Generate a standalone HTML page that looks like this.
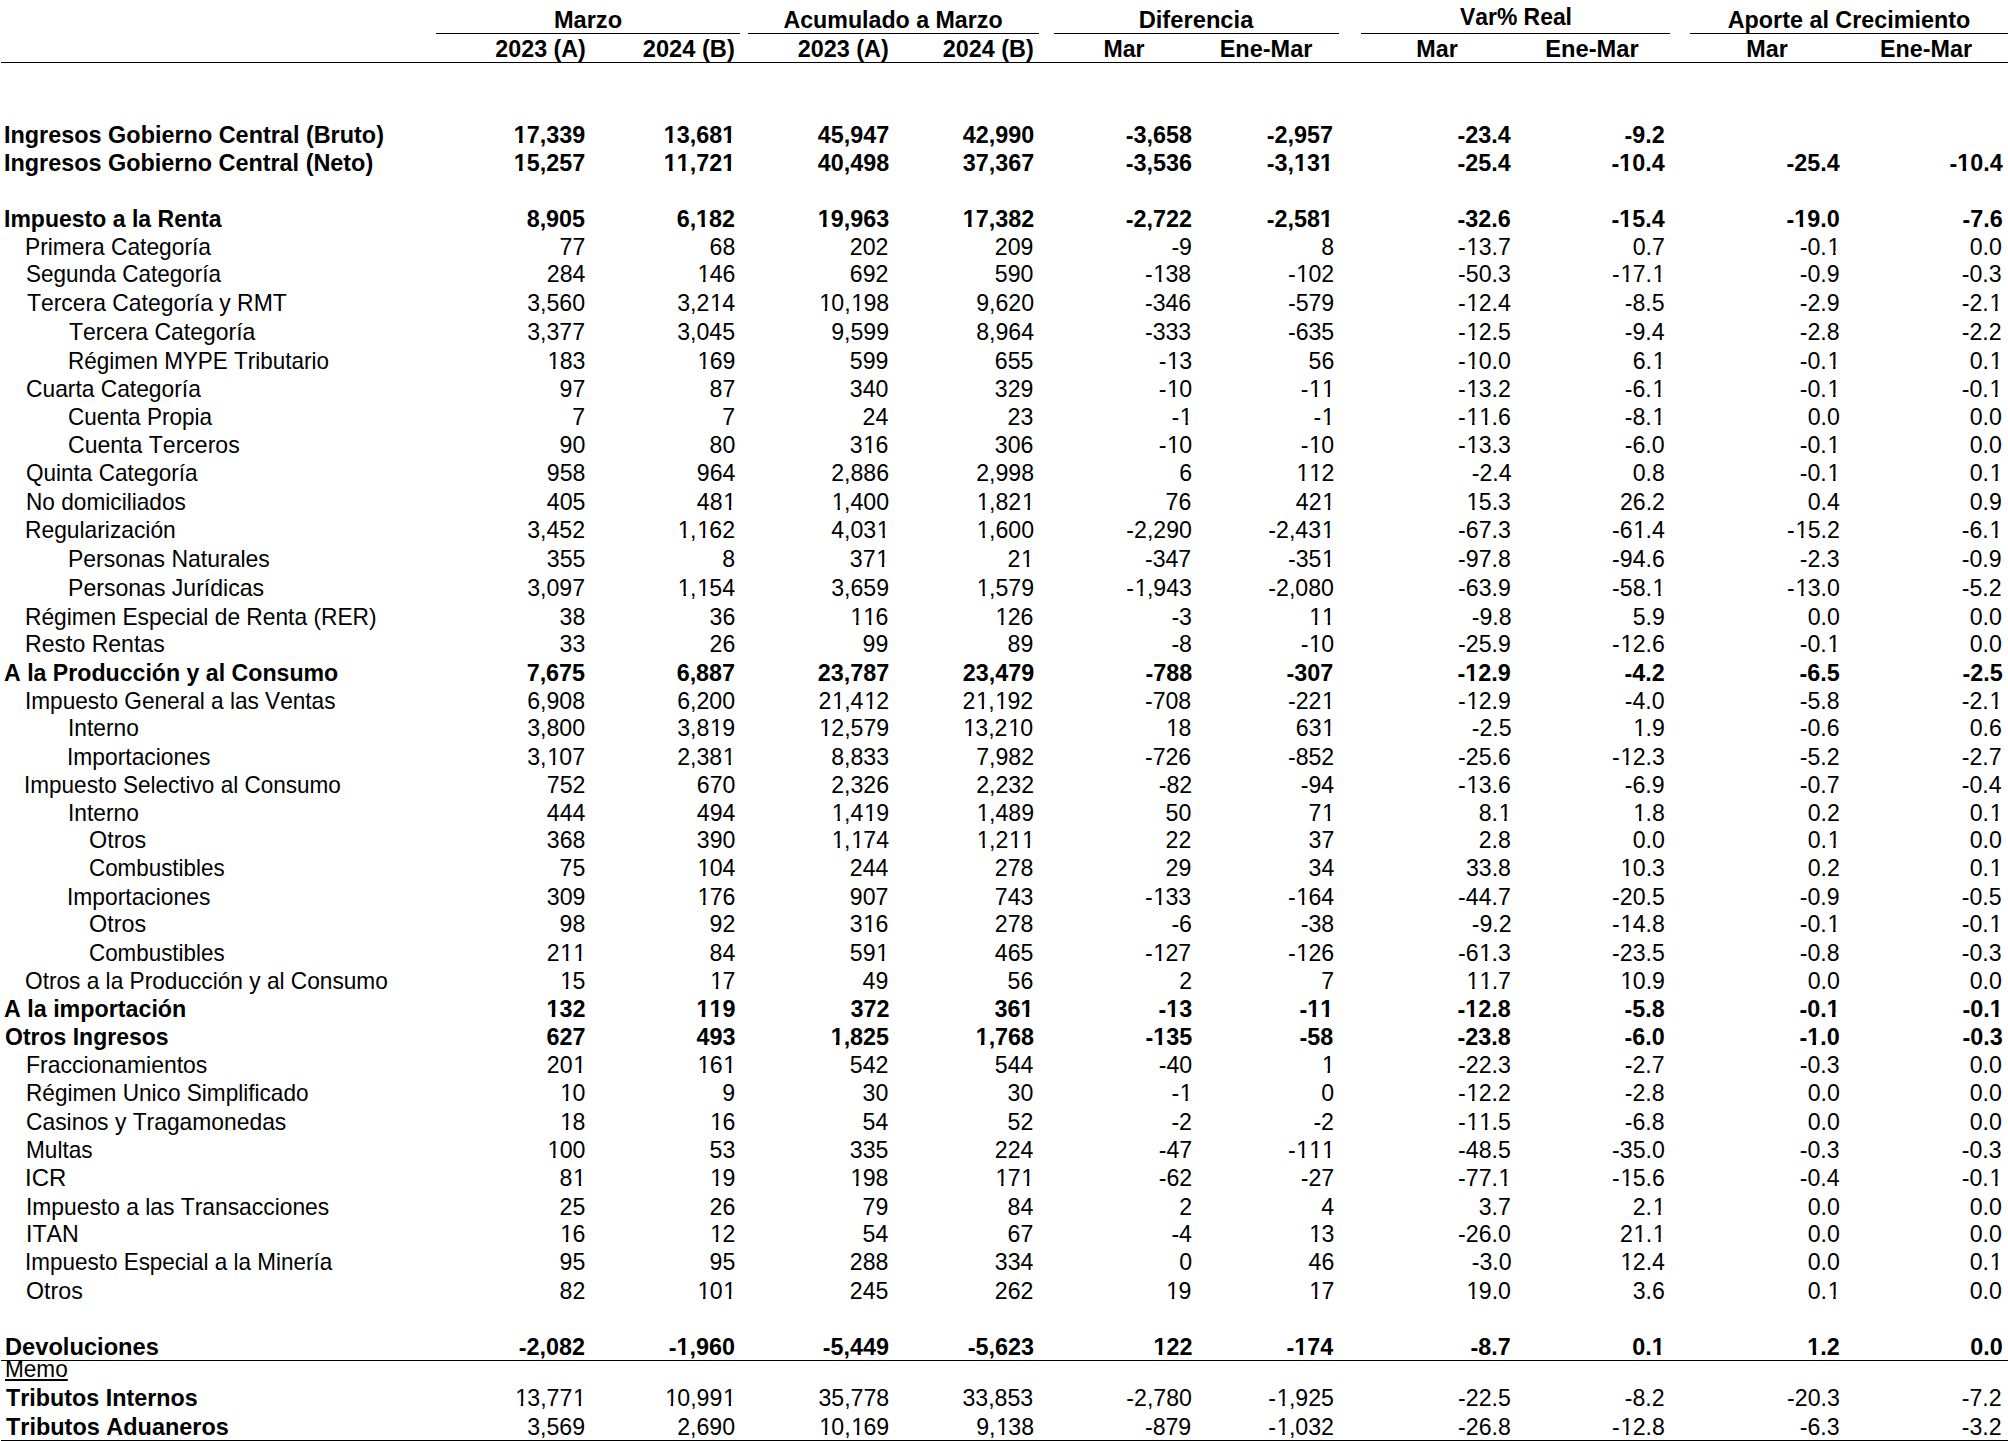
<!DOCTYPE html>
<html><head><meta charset="utf-8"><style>
html,body{margin:0;padding:0;background:#fff;}
body{width:2008px;height:1441px;position:relative;overflow:hidden;font-family:"Liberation Sans",sans-serif;color:#000;}
.r,.b{position:absolute;white-space:nowrap;line-height:1;font-size:23.6px;font-kerning:none;font-variant-ligatures:none;}
.r{font-weight:normal;}
.b{font-weight:bold;}
.ln{position:absolute;background:#000;}
u{text-decoration-thickness:1.7px;text-underline-offset:2px;}
.r .o1{position:relative;left:0.03em;clip-path:polygon(0 0,100% 0,100% 0.74em,0.348em 0.74em,0.348em 100%,0.243em 100%,0.243em 0.74em,0 0.74em);}
.b .hy{position:relative;top:0.04em;}
.b .o1{clip-path:polygon(0 0,100% 0,100% 0.72em,0.378em 0.72em,0.378em 100%,0.226em 100%,0.226em 0.72em,0 0.72em);}
</style></head><body>
<div class="b" style="top:8.92px;left:288.25px;width:600px;text-align:center;transform-origin:50% 50%;transform:scaleX(0.9997)">Marzo</div>
<div class="b" style="top:8.92px;left:593.27px;width:600px;text-align:center;transform-origin:50% 50%;transform:scaleX(0.9832)">Acumulado a Marzo</div>
<div class="b" style="top:8.92px;left:895.88px;width:600px;text-align:center;transform-origin:50% 50%;transform:scaleX(1.0052)">Diferencia</div>
<div class="b" style="top:5.82px;left:1215.60px;width:600px;text-align:center;transform-origin:50% 50%;transform:scaleX(0.9704)">Var% Real</div>
<div class="b" style="top:8.92px;left:1549.49px;width:600px;text-align:center;transform-origin:50% 50%;transform:scaleX(0.9897)">Aporte al Crecimiento</div>
<div class="b" style="top:37.82px;right:1422.42px;transform-origin:100% 50%;transform:scaleX(0.9853)">2023 (A)</div>
<div class="b" style="top:37.82px;right:1272.72px;transform-origin:100% 50%;transform:scaleX(1.0029)">2024 (B)</div>
<div class="b" style="top:37.82px;right:1119.58px;transform-origin:100% 50%;transform:scaleX(0.9926)">2023 (A)</div>
<div class="b" style="top:37.82px;right:974.48px;transform-origin:100% 50%;transform:scaleX(0.9926)">2024 (B)</div>
<div class="b" style="top:37.82px;left:824.42px;width:600px;text-align:center;transform-origin:50% 50%;transform:scaleX(0.9786)">Mar</div>
<div class="b" style="top:37.82px;left:966.24px;width:600px;text-align:center;transform-origin:50% 50%;transform:scaleX(0.9958)">Ene-Mar</div>
<div class="b" style="top:37.82px;left:1137.46px;width:600px;text-align:center;transform-origin:50% 50%;transform:scaleX(0.9883)">Mar</div>
<div class="b" style="top:37.82px;left:1291.74px;width:600px;text-align:center;transform-origin:50% 50%;transform:scaleX(1.0027)">Ene-Mar</div>
<div class="b" style="top:37.82px;left:1466.86px;width:600px;text-align:center;transform-origin:50% 50%;transform:scaleX(0.9883)">Mar</div>
<div class="b" style="top:37.82px;left:1626.10px;width:600px;text-align:center;transform-origin:50% 50%;transform:scaleX(0.9880)">Ene-Mar</div>
<div class="b" style="top:123.72px;left:3.51px;transform-origin:0 50%;transform:scaleX(0.9926)">Ingresos Gobierno Central (Bruto)</div>
<div class="b" style="top:123.72px;right:1422.63px;transform-origin:100% 50%;transform:scaleX(0.9890)"><span class="o1">1</span>7,339</div>
<div class="b" style="top:123.72px;right:1273.13px;transform-origin:100% 50%;transform:scaleX(0.9890)"><span class="o1">1</span>3,68<span class="o1">1</span></div>
<div class="b" style="top:123.72px;right:1118.85px;transform-origin:100% 50%;transform:scaleX(0.9890)">45,947</div>
<div class="b" style="top:123.72px;right:974.27px;transform-origin:100% 50%;transform:scaleX(0.9890)">42,990</div>
<div class="b" style="top:123.72px;right:815.81px;transform-origin:100% 50%;transform:scaleX(0.9890)"><span class="hy">-</span>3,658</div>
<div class="b" style="top:123.72px;right:674.68px;transform-origin:100% 50%;transform:scaleX(0.9890)"><span class="hy">-</span>2,957</div>
<div class="b" style="top:123.72px;right:496.88px;transform-origin:100% 50%;transform:scaleX(0.9890)"><span class="hy">-</span>23.4</div>
<div class="b" style="top:123.72px;right:343.53px;transform-origin:100% 50%;transform:scaleX(0.9890)"><span class="hy">-</span>9.2</div>
<div class="b" style="top:151.62px;left:3.52px;transform-origin:0 50%;transform:scaleX(0.9917)">Ingresos Gobierno Central (Neto)</div>
<div class="b" style="top:151.62px;right:1422.63px;transform-origin:100% 50%;transform:scaleX(0.9890)"><span class="o1">1</span>5,257</div>
<div class="b" style="top:151.62px;right:1273.13px;transform-origin:100% 50%;transform:scaleX(0.9890)"><span class="o1">1</span><span class="o1">1</span>,72<span class="o1">1</span></div>
<div class="b" style="top:151.62px;right:1118.85px;transform-origin:100% 50%;transform:scaleX(0.9890)">40,498</div>
<div class="b" style="top:151.62px;right:974.27px;transform-origin:100% 50%;transform:scaleX(0.9890)">37,367</div>
<div class="b" style="top:151.62px;right:815.81px;transform-origin:100% 50%;transform:scaleX(0.9890)"><span class="hy">-</span>3,536</div>
<div class="b" style="top:151.62px;right:674.68px;transform-origin:100% 50%;transform:scaleX(0.9890)"><span class="hy">-</span>3,<span class="o1">1</span>3<span class="o1">1</span></div>
<div class="b" style="top:151.62px;right:496.88px;transform-origin:100% 50%;transform:scaleX(0.9890)"><span class="hy">-</span>25.4</div>
<div class="b" style="top:151.62px;right:343.53px;transform-origin:100% 50%;transform:scaleX(0.9890)"><span class="hy">-</span><span class="o1">1</span>0.4</div>
<div class="b" style="top:151.62px;right:167.89px;transform-origin:100% 50%;transform:scaleX(0.9890)"><span class="hy">-</span>25.4</div>
<div class="b" style="top:151.62px;right:5.58px;transform-origin:100% 50%;transform:scaleX(0.9890)"><span class="hy">-</span><span class="o1">1</span>0.4</div>
<div class="b" style="top:207.62px;left:3.66px;transform-origin:0 50%;transform:scaleX(0.9758)">Impuesto a la Renta</div>
<div class="b" style="top:207.62px;right:1422.63px;transform-origin:100% 50%;transform:scaleX(0.9890)">8,905</div>
<div class="b" style="top:207.62px;right:1273.13px;transform-origin:100% 50%;transform:scaleX(0.9890)">6,<span class="o1">1</span>82</div>
<div class="b" style="top:207.62px;right:1118.85px;transform-origin:100% 50%;transform:scaleX(0.9890)"><span class="o1">1</span>9,963</div>
<div class="b" style="top:207.62px;right:974.27px;transform-origin:100% 50%;transform:scaleX(0.9890)"><span class="o1">1</span>7,382</div>
<div class="b" style="top:207.62px;right:815.81px;transform-origin:100% 50%;transform:scaleX(0.9890)"><span class="hy">-</span>2,722</div>
<div class="b" style="top:207.62px;right:674.68px;transform-origin:100% 50%;transform:scaleX(0.9890)"><span class="hy">-</span>2,58<span class="o1">1</span></div>
<div class="b" style="top:207.62px;right:496.88px;transform-origin:100% 50%;transform:scaleX(0.9890)"><span class="hy">-</span>32.6</div>
<div class="b" style="top:207.62px;right:343.53px;transform-origin:100% 50%;transform:scaleX(0.9890)"><span class="hy">-</span><span class="o1">1</span>5.4</div>
<div class="b" style="top:207.62px;right:167.89px;transform-origin:100% 50%;transform:scaleX(0.9890)"><span class="hy">-</span><span class="o1">1</span>9.0</div>
<div class="b" style="top:207.62px;right:5.58px;transform-origin:100% 50%;transform:scaleX(0.9890)"><span class="hy">-</span>7.6</div>
<div class="r" style="top:235.52px;left:25.34px;transform-origin:0 50%;transform:scaleX(0.9648)">Primera Categoría</div>
<div class="r" style="top:235.52px;right:1422.47px;transform-origin:100% 50%;transform:scaleX(0.9800)">77</div>
<div class="r" style="top:235.52px;right:1273.07px;transform-origin:100% 50%;transform:scaleX(0.9800)">68</div>
<div class="r" style="top:235.52px;right:1119.30px;transform-origin:100% 50%;transform:scaleX(0.9800)">202</div>
<div class="r" style="top:235.52px;right:974.45px;transform-origin:100% 50%;transform:scaleX(0.9800)">209</div>
<div class="r" style="top:235.52px;right:816.36px;transform-origin:100% 50%;transform:scaleX(0.9800)">-9</div>
<div class="r" style="top:235.52px;right:674.11px;transform-origin:100% 50%;transform:scaleX(0.9800)">8</div>
<div class="r" style="top:235.52px;right:496.84px;transform-origin:100% 50%;transform:scaleX(0.9800)">-<span class="o1">1</span>3.7</div>
<div class="r" style="top:235.52px;right:343.28px;transform-origin:100% 50%;transform:scaleX(0.9800)">0.7</div>
<div class="r" style="top:235.52px;right:168.33px;transform-origin:100% 50%;transform:scaleX(0.9800)">-0.<span class="o1">1</span></div>
<div class="r" style="top:235.52px;right:5.90px;transform-origin:100% 50%;transform:scaleX(0.9800)">0.0</div>
<div class="r" style="top:263.32px;left:26.23px;transform-origin:0 50%;transform:scaleX(0.9528)">Segunda Categoría</div>
<div class="r" style="top:263.32px;right:1422.47px;transform-origin:100% 50%;transform:scaleX(0.9800)">284</div>
<div class="r" style="top:263.32px;right:1273.07px;transform-origin:100% 50%;transform:scaleX(0.9800)"><span class="o1">1</span>46</div>
<div class="r" style="top:263.32px;right:1119.30px;transform-origin:100% 50%;transform:scaleX(0.9800)">692</div>
<div class="r" style="top:263.32px;right:974.45px;transform-origin:100% 50%;transform:scaleX(0.9800)">590</div>
<div class="r" style="top:263.32px;right:816.36px;transform-origin:100% 50%;transform:scaleX(0.9800)">-<span class="o1">1</span>38</div>
<div class="r" style="top:263.32px;right:674.11px;transform-origin:100% 50%;transform:scaleX(0.9800)">-<span class="o1">1</span>02</div>
<div class="r" style="top:263.32px;right:496.84px;transform-origin:100% 50%;transform:scaleX(0.9800)">-50.3</div>
<div class="r" style="top:263.32px;right:343.28px;transform-origin:100% 50%;transform:scaleX(0.9800)">-<span class="o1">1</span>7.<span class="o1">1</span></div>
<div class="r" style="top:263.32px;right:168.33px;transform-origin:100% 50%;transform:scaleX(0.9800)">-0.9</div>
<div class="r" style="top:263.32px;right:5.90px;transform-origin:100% 50%;transform:scaleX(0.9800)">-0.3</div>
<div class="r" style="top:291.62px;left:27.34px;transform-origin:0 50%;transform:scaleX(0.9710)">Tercera Categoría y RMT</div>
<div class="r" style="top:291.62px;right:1422.47px;transform-origin:100% 50%;transform:scaleX(0.9800)">3,560</div>
<div class="r" style="top:291.62px;right:1273.07px;transform-origin:100% 50%;transform:scaleX(0.9800)">3,2<span class="o1">1</span>4</div>
<div class="r" style="top:291.62px;right:1119.30px;transform-origin:100% 50%;transform:scaleX(0.9800)"><span class="o1">1</span>0,<span class="o1">1</span>98</div>
<div class="r" style="top:291.62px;right:974.45px;transform-origin:100% 50%;transform:scaleX(0.9800)">9,620</div>
<div class="r" style="top:291.62px;right:816.36px;transform-origin:100% 50%;transform:scaleX(0.9800)">-346</div>
<div class="r" style="top:291.62px;right:674.11px;transform-origin:100% 50%;transform:scaleX(0.9800)">-579</div>
<div class="r" style="top:291.62px;right:496.84px;transform-origin:100% 50%;transform:scaleX(0.9800)">-<span class="o1">1</span>2.4</div>
<div class="r" style="top:291.62px;right:343.28px;transform-origin:100% 50%;transform:scaleX(0.9800)">-8.5</div>
<div class="r" style="top:291.62px;right:168.33px;transform-origin:100% 50%;transform:scaleX(0.9800)">-2.9</div>
<div class="r" style="top:291.62px;right:5.90px;transform-origin:100% 50%;transform:scaleX(0.9800)">-2.<span class="o1">1</span></div>
<div class="r" style="top:320.52px;left:69.14px;transform-origin:0 50%;transform:scaleX(0.9729)">Tercera Categoría</div>
<div class="r" style="top:320.52px;right:1422.47px;transform-origin:100% 50%;transform:scaleX(0.9800)">3,377</div>
<div class="r" style="top:320.52px;right:1273.07px;transform-origin:100% 50%;transform:scaleX(0.9800)">3,045</div>
<div class="r" style="top:320.52px;right:1119.30px;transform-origin:100% 50%;transform:scaleX(0.9800)">9,599</div>
<div class="r" style="top:320.52px;right:974.45px;transform-origin:100% 50%;transform:scaleX(0.9800)">8,964</div>
<div class="r" style="top:320.52px;right:816.36px;transform-origin:100% 50%;transform:scaleX(0.9800)">-333</div>
<div class="r" style="top:320.52px;right:674.11px;transform-origin:100% 50%;transform:scaleX(0.9800)">-635</div>
<div class="r" style="top:320.52px;right:496.84px;transform-origin:100% 50%;transform:scaleX(0.9800)">-<span class="o1">1</span>2.5</div>
<div class="r" style="top:320.52px;right:343.28px;transform-origin:100% 50%;transform:scaleX(0.9800)">-9.4</div>
<div class="r" style="top:320.52px;right:168.33px;transform-origin:100% 50%;transform:scaleX(0.9800)">-2.8</div>
<div class="r" style="top:320.52px;right:5.90px;transform-origin:100% 50%;transform:scaleX(0.9800)">-2.2</div>
<div class="r" style="top:349.62px;left:68.43px;transform-origin:0 50%;transform:scaleX(0.9521)">Régimen MYPE Tributario</div>
<div class="r" style="top:349.62px;right:1422.47px;transform-origin:100% 50%;transform:scaleX(0.9800)"><span class="o1">1</span>83</div>
<div class="r" style="top:349.62px;right:1273.07px;transform-origin:100% 50%;transform:scaleX(0.9800)"><span class="o1">1</span>69</div>
<div class="r" style="top:349.62px;right:1119.30px;transform-origin:100% 50%;transform:scaleX(0.9800)">599</div>
<div class="r" style="top:349.62px;right:974.45px;transform-origin:100% 50%;transform:scaleX(0.9800)">655</div>
<div class="r" style="top:349.62px;right:816.36px;transform-origin:100% 50%;transform:scaleX(0.9800)">-<span class="o1">1</span>3</div>
<div class="r" style="top:349.62px;right:674.11px;transform-origin:100% 50%;transform:scaleX(0.9800)">56</div>
<div class="r" style="top:349.62px;right:496.84px;transform-origin:100% 50%;transform:scaleX(0.9800)">-<span class="o1">1</span>0.0</div>
<div class="r" style="top:349.62px;right:343.28px;transform-origin:100% 50%;transform:scaleX(0.9800)">6.<span class="o1">1</span></div>
<div class="r" style="top:349.62px;right:168.33px;transform-origin:100% 50%;transform:scaleX(0.9800)">-0.<span class="o1">1</span></div>
<div class="r" style="top:349.62px;right:5.90px;transform-origin:100% 50%;transform:scaleX(0.9800)">0.<span class="o1">1</span></div>
<div class="r" style="top:377.72px;left:25.96px;transform-origin:0 50%;transform:scaleX(0.9659)">Cuarta Categoría</div>
<div class="r" style="top:377.72px;right:1422.47px;transform-origin:100% 50%;transform:scaleX(0.9800)">97</div>
<div class="r" style="top:377.72px;right:1273.07px;transform-origin:100% 50%;transform:scaleX(0.9800)">87</div>
<div class="r" style="top:377.72px;right:1119.30px;transform-origin:100% 50%;transform:scaleX(0.9800)">340</div>
<div class="r" style="top:377.72px;right:974.45px;transform-origin:100% 50%;transform:scaleX(0.9800)">329</div>
<div class="r" style="top:377.72px;right:816.36px;transform-origin:100% 50%;transform:scaleX(0.9800)">-<span class="o1">1</span>0</div>
<div class="r" style="top:377.72px;right:674.11px;transform-origin:100% 50%;transform:scaleX(0.9800)">-<span class="o1">1</span><span class="o1">1</span></div>
<div class="r" style="top:377.72px;right:496.84px;transform-origin:100% 50%;transform:scaleX(0.9800)">-<span class="o1">1</span>3.2</div>
<div class="r" style="top:377.72px;right:343.28px;transform-origin:100% 50%;transform:scaleX(0.9800)">-6.<span class="o1">1</span></div>
<div class="r" style="top:377.72px;right:168.33px;transform-origin:100% 50%;transform:scaleX(0.9800)">-0.<span class="o1">1</span></div>
<div class="r" style="top:377.72px;right:5.90px;transform-origin:100% 50%;transform:scaleX(0.9800)">-0.<span class="o1">1</span></div>
<div class="r" style="top:406.12px;left:67.77px;transform-origin:0 50%;transform:scaleX(0.9548)">Cuenta Propia</div>
<div class="r" style="top:406.12px;right:1422.47px;transform-origin:100% 50%;transform:scaleX(0.9800)">7</div>
<div class="r" style="top:406.12px;right:1273.07px;transform-origin:100% 50%;transform:scaleX(0.9800)">7</div>
<div class="r" style="top:406.12px;right:1119.30px;transform-origin:100% 50%;transform:scaleX(0.9800)">24</div>
<div class="r" style="top:406.12px;right:974.45px;transform-origin:100% 50%;transform:scaleX(0.9800)">23</div>
<div class="r" style="top:406.12px;right:816.36px;transform-origin:100% 50%;transform:scaleX(0.9800)">-<span class="o1">1</span></div>
<div class="r" style="top:406.12px;right:674.11px;transform-origin:100% 50%;transform:scaleX(0.9800)">-<span class="o1">1</span></div>
<div class="r" style="top:406.12px;right:496.84px;transform-origin:100% 50%;transform:scaleX(0.9800)">-<span class="o1">1</span><span class="o1">1</span>.6</div>
<div class="r" style="top:406.12px;right:343.28px;transform-origin:100% 50%;transform:scaleX(0.9800)">-8.<span class="o1">1</span></div>
<div class="r" style="top:406.12px;right:168.33px;transform-origin:100% 50%;transform:scaleX(0.9800)">0.0</div>
<div class="r" style="top:406.12px;right:5.90px;transform-origin:100% 50%;transform:scaleX(0.9800)">0.0</div>
<div class="r" style="top:434.12px;left:67.63px;transform-origin:0 50%;transform:scaleX(0.9770)">Cuenta Terceros</div>
<div class="r" style="top:434.12px;right:1422.47px;transform-origin:100% 50%;transform:scaleX(0.9800)">90</div>
<div class="r" style="top:434.12px;right:1273.07px;transform-origin:100% 50%;transform:scaleX(0.9800)">80</div>
<div class="r" style="top:434.12px;right:1119.30px;transform-origin:100% 50%;transform:scaleX(0.9800)">3<span class="o1">1</span>6</div>
<div class="r" style="top:434.12px;right:974.45px;transform-origin:100% 50%;transform:scaleX(0.9800)">306</div>
<div class="r" style="top:434.12px;right:816.36px;transform-origin:100% 50%;transform:scaleX(0.9800)">-<span class="o1">1</span>0</div>
<div class="r" style="top:434.12px;right:674.11px;transform-origin:100% 50%;transform:scaleX(0.9800)">-<span class="o1">1</span>0</div>
<div class="r" style="top:434.12px;right:496.84px;transform-origin:100% 50%;transform:scaleX(0.9800)">-<span class="o1">1</span>3.3</div>
<div class="r" style="top:434.12px;right:343.28px;transform-origin:100% 50%;transform:scaleX(0.9800)">-6.0</div>
<div class="r" style="top:434.12px;right:168.33px;transform-origin:100% 50%;transform:scaleX(0.9800)">-0.<span class="o1">1</span></div>
<div class="r" style="top:434.12px;right:5.90px;transform-origin:100% 50%;transform:scaleX(0.9800)">0.0</div>
<div class="r" style="top:462.32px;left:26.36px;transform-origin:0 50%;transform:scaleX(0.9551)">Quinta Categoría</div>
<div class="r" style="top:462.32px;right:1422.47px;transform-origin:100% 50%;transform:scaleX(0.9800)">958</div>
<div class="r" style="top:462.32px;right:1273.07px;transform-origin:100% 50%;transform:scaleX(0.9800)">964</div>
<div class="r" style="top:462.32px;right:1119.30px;transform-origin:100% 50%;transform:scaleX(0.9800)">2,886</div>
<div class="r" style="top:462.32px;right:974.45px;transform-origin:100% 50%;transform:scaleX(0.9800)">2,998</div>
<div class="r" style="top:462.32px;right:816.36px;transform-origin:100% 50%;transform:scaleX(0.9800)">6</div>
<div class="r" style="top:462.32px;right:674.11px;transform-origin:100% 50%;transform:scaleX(0.9800)"><span class="o1">1</span><span class="o1">1</span>2</div>
<div class="r" style="top:462.32px;right:496.84px;transform-origin:100% 50%;transform:scaleX(0.9800)">-2.4</div>
<div class="r" style="top:462.32px;right:343.28px;transform-origin:100% 50%;transform:scaleX(0.9800)">0.8</div>
<div class="r" style="top:462.32px;right:168.33px;transform-origin:100% 50%;transform:scaleX(0.9800)">-0.<span class="o1">1</span></div>
<div class="r" style="top:462.32px;right:5.90px;transform-origin:100% 50%;transform:scaleX(0.9800)">0.<span class="o1">1</span></div>
<div class="r" style="top:490.82px;left:25.51px;transform-origin:0 50%;transform:scaleX(0.9598)">No domiciliados</div>
<div class="r" style="top:490.82px;right:1422.47px;transform-origin:100% 50%;transform:scaleX(0.9800)">405</div>
<div class="r" style="top:490.82px;right:1273.07px;transform-origin:100% 50%;transform:scaleX(0.9800)">48<span class="o1">1</span></div>
<div class="r" style="top:490.82px;right:1119.30px;transform-origin:100% 50%;transform:scaleX(0.9800)"><span class="o1">1</span>,400</div>
<div class="r" style="top:490.82px;right:974.45px;transform-origin:100% 50%;transform:scaleX(0.9800)"><span class="o1">1</span>,82<span class="o1">1</span></div>
<div class="r" style="top:490.82px;right:816.36px;transform-origin:100% 50%;transform:scaleX(0.9800)">76</div>
<div class="r" style="top:490.82px;right:674.11px;transform-origin:100% 50%;transform:scaleX(0.9800)">42<span class="o1">1</span></div>
<div class="r" style="top:490.82px;right:496.84px;transform-origin:100% 50%;transform:scaleX(0.9800)"><span class="o1">1</span>5.3</div>
<div class="r" style="top:490.82px;right:343.28px;transform-origin:100% 50%;transform:scaleX(0.9800)">26.2</div>
<div class="r" style="top:490.82px;right:168.33px;transform-origin:100% 50%;transform:scaleX(0.9800)">0.4</div>
<div class="r" style="top:490.82px;right:5.90px;transform-origin:100% 50%;transform:scaleX(0.9800)">0.9</div>
<div class="r" style="top:518.82px;left:25.33px;transform-origin:0 50%;transform:scaleX(0.9661)">Regularización</div>
<div class="r" style="top:518.82px;right:1422.47px;transform-origin:100% 50%;transform:scaleX(0.9800)">3,452</div>
<div class="r" style="top:518.82px;right:1273.07px;transform-origin:100% 50%;transform:scaleX(0.9800)"><span class="o1">1</span>,<span class="o1">1</span>62</div>
<div class="r" style="top:518.82px;right:1119.30px;transform-origin:100% 50%;transform:scaleX(0.9800)">4,03<span class="o1">1</span></div>
<div class="r" style="top:518.82px;right:974.45px;transform-origin:100% 50%;transform:scaleX(0.9800)"><span class="o1">1</span>,600</div>
<div class="r" style="top:518.82px;right:816.36px;transform-origin:100% 50%;transform:scaleX(0.9800)">-2,290</div>
<div class="r" style="top:518.82px;right:674.11px;transform-origin:100% 50%;transform:scaleX(0.9800)">-2,43<span class="o1">1</span></div>
<div class="r" style="top:518.82px;right:496.84px;transform-origin:100% 50%;transform:scaleX(0.9800)">-67.3</div>
<div class="r" style="top:518.82px;right:343.28px;transform-origin:100% 50%;transform:scaleX(0.9800)">-6<span class="o1">1</span>.4</div>
<div class="r" style="top:518.82px;right:168.33px;transform-origin:100% 50%;transform:scaleX(0.9800)">-<span class="o1">1</span>5.2</div>
<div class="r" style="top:518.82px;right:5.90px;transform-origin:100% 50%;transform:scaleX(0.9800)">-6.<span class="o1">1</span></div>
<div class="r" style="top:547.72px;left:68.12px;transform-origin:0 50%;transform:scaleX(0.9741)">Personas Naturales</div>
<div class="r" style="top:547.72px;right:1422.47px;transform-origin:100% 50%;transform:scaleX(0.9800)">355</div>
<div class="r" style="top:547.72px;right:1273.07px;transform-origin:100% 50%;transform:scaleX(0.9800)">8</div>
<div class="r" style="top:547.72px;right:1119.30px;transform-origin:100% 50%;transform:scaleX(0.9800)">37<span class="o1">1</span></div>
<div class="r" style="top:547.72px;right:974.45px;transform-origin:100% 50%;transform:scaleX(0.9800)">2<span class="o1">1</span></div>
<div class="r" style="top:547.72px;right:816.36px;transform-origin:100% 50%;transform:scaleX(0.9800)">-347</div>
<div class="r" style="top:547.72px;right:674.11px;transform-origin:100% 50%;transform:scaleX(0.9800)">-35<span class="o1">1</span></div>
<div class="r" style="top:547.72px;right:496.84px;transform-origin:100% 50%;transform:scaleX(0.9800)">-97.8</div>
<div class="r" style="top:547.72px;right:343.28px;transform-origin:100% 50%;transform:scaleX(0.9800)">-94.6</div>
<div class="r" style="top:547.72px;right:168.33px;transform-origin:100% 50%;transform:scaleX(0.9800)">-2.3</div>
<div class="r" style="top:547.72px;right:5.90px;transform-origin:100% 50%;transform:scaleX(0.9800)">-0.9</div>
<div class="r" style="top:576.72px;left:68.11px;transform-origin:0 50%;transform:scaleX(0.9774)">Personas Jurídicas</div>
<div class="r" style="top:576.72px;right:1422.47px;transform-origin:100% 50%;transform:scaleX(0.9800)">3,097</div>
<div class="r" style="top:576.72px;right:1273.07px;transform-origin:100% 50%;transform:scaleX(0.9800)"><span class="o1">1</span>,<span class="o1">1</span>54</div>
<div class="r" style="top:576.72px;right:1119.30px;transform-origin:100% 50%;transform:scaleX(0.9800)">3,659</div>
<div class="r" style="top:576.72px;right:974.45px;transform-origin:100% 50%;transform:scaleX(0.9800)"><span class="o1">1</span>,579</div>
<div class="r" style="top:576.72px;right:816.36px;transform-origin:100% 50%;transform:scaleX(0.9800)">-<span class="o1">1</span>,943</div>
<div class="r" style="top:576.72px;right:674.11px;transform-origin:100% 50%;transform:scaleX(0.9800)">-2,080</div>
<div class="r" style="top:576.72px;right:496.84px;transform-origin:100% 50%;transform:scaleX(0.9800)">-63.9</div>
<div class="r" style="top:576.72px;right:343.28px;transform-origin:100% 50%;transform:scaleX(0.9800)">-58.<span class="o1">1</span></div>
<div class="r" style="top:576.72px;right:168.33px;transform-origin:100% 50%;transform:scaleX(0.9800)">-<span class="o1">1</span>3.0</div>
<div class="r" style="top:576.72px;right:5.90px;transform-origin:100% 50%;transform:scaleX(0.9800)">-5.2</div>
<div class="r" style="top:605.52px;left:25.34px;transform-origin:0 50%;transform:scaleX(0.9645)">Régimen Especial de Renta (RER)</div>
<div class="r" style="top:605.52px;right:1422.47px;transform-origin:100% 50%;transform:scaleX(0.9800)">38</div>
<div class="r" style="top:605.52px;right:1273.07px;transform-origin:100% 50%;transform:scaleX(0.9800)">36</div>
<div class="r" style="top:605.52px;right:1119.30px;transform-origin:100% 50%;transform:scaleX(0.9800)"><span class="o1">1</span><span class="o1">1</span>6</div>
<div class="r" style="top:605.52px;right:974.45px;transform-origin:100% 50%;transform:scaleX(0.9800)"><span class="o1">1</span>26</div>
<div class="r" style="top:605.52px;right:816.36px;transform-origin:100% 50%;transform:scaleX(0.9800)">-3</div>
<div class="r" style="top:605.52px;right:674.11px;transform-origin:100% 50%;transform:scaleX(0.9800)"><span class="o1">1</span><span class="o1">1</span></div>
<div class="r" style="top:605.52px;right:496.84px;transform-origin:100% 50%;transform:scaleX(0.9800)">-9.8</div>
<div class="r" style="top:605.52px;right:343.28px;transform-origin:100% 50%;transform:scaleX(0.9800)">5.9</div>
<div class="r" style="top:605.52px;right:168.33px;transform-origin:100% 50%;transform:scaleX(0.9800)">0.0</div>
<div class="r" style="top:605.52px;right:5.90px;transform-origin:100% 50%;transform:scaleX(0.9800)">0.0</div>
<div class="r" style="top:633.32px;left:25.31px;transform-origin:0 50%;transform:scaleX(0.9772)">Resto Rentas</div>
<div class="r" style="top:633.32px;right:1422.47px;transform-origin:100% 50%;transform:scaleX(0.9800)">33</div>
<div class="r" style="top:633.32px;right:1273.07px;transform-origin:100% 50%;transform:scaleX(0.9800)">26</div>
<div class="r" style="top:633.32px;right:1119.30px;transform-origin:100% 50%;transform:scaleX(0.9800)">99</div>
<div class="r" style="top:633.32px;right:974.45px;transform-origin:100% 50%;transform:scaleX(0.9800)">89</div>
<div class="r" style="top:633.32px;right:816.36px;transform-origin:100% 50%;transform:scaleX(0.9800)">-8</div>
<div class="r" style="top:633.32px;right:674.11px;transform-origin:100% 50%;transform:scaleX(0.9800)">-<span class="o1">1</span>0</div>
<div class="r" style="top:633.32px;right:496.84px;transform-origin:100% 50%;transform:scaleX(0.9800)">-25.9</div>
<div class="r" style="top:633.32px;right:343.28px;transform-origin:100% 50%;transform:scaleX(0.9800)">-<span class="o1">1</span>2.6</div>
<div class="r" style="top:633.32px;right:168.33px;transform-origin:100% 50%;transform:scaleX(0.9800)">-0.<span class="o1">1</span></div>
<div class="r" style="top:633.32px;right:5.90px;transform-origin:100% 50%;transform:scaleX(0.9800)">0.0</div>
<div class="b" style="top:661.72px;left:4.33px;transform-origin:0 50%;transform:scaleX(0.9805)">A la Producción y al Consumo</div>
<div class="b" style="top:661.72px;right:1422.63px;transform-origin:100% 50%;transform:scaleX(0.9890)">7,675</div>
<div class="b" style="top:661.72px;right:1273.13px;transform-origin:100% 50%;transform:scaleX(0.9890)">6,887</div>
<div class="b" style="top:661.72px;right:1118.85px;transform-origin:100% 50%;transform:scaleX(0.9890)">23,787</div>
<div class="b" style="top:661.72px;right:974.27px;transform-origin:100% 50%;transform:scaleX(0.9890)">23,479</div>
<div class="b" style="top:661.72px;right:815.81px;transform-origin:100% 50%;transform:scaleX(0.9890)"><span class="hy">-</span>788</div>
<div class="b" style="top:661.72px;right:674.68px;transform-origin:100% 50%;transform:scaleX(0.9890)"><span class="hy">-</span>307</div>
<div class="b" style="top:661.72px;right:496.88px;transform-origin:100% 50%;transform:scaleX(0.9890)"><span class="hy">-</span><span class="o1">1</span>2.9</div>
<div class="b" style="top:661.72px;right:343.53px;transform-origin:100% 50%;transform:scaleX(0.9890)"><span class="hy">-</span>4.2</div>
<div class="b" style="top:661.72px;right:167.89px;transform-origin:100% 50%;transform:scaleX(0.9890)"><span class="hy">-</span>6.5</div>
<div class="b" style="top:661.72px;right:5.58px;transform-origin:100% 50%;transform:scaleX(0.9890)"><span class="hy">-</span>2.5</div>
<div class="r" style="top:689.52px;left:24.81px;transform-origin:0 50%;transform:scaleX(0.9585)">Impuesto General a las Ventas</div>
<div class="r" style="top:689.52px;right:1422.47px;transform-origin:100% 50%;transform:scaleX(0.9800)">6,908</div>
<div class="r" style="top:689.52px;right:1273.07px;transform-origin:100% 50%;transform:scaleX(0.9800)">6,200</div>
<div class="r" style="top:689.52px;right:1119.30px;transform-origin:100% 50%;transform:scaleX(0.9800)">2<span class="o1">1</span>,4<span class="o1">1</span>2</div>
<div class="r" style="top:689.52px;right:974.45px;transform-origin:100% 50%;transform:scaleX(0.9800)">2<span class="o1">1</span>,<span class="o1">1</span>92</div>
<div class="r" style="top:689.52px;right:816.36px;transform-origin:100% 50%;transform:scaleX(0.9800)">-708</div>
<div class="r" style="top:689.52px;right:674.11px;transform-origin:100% 50%;transform:scaleX(0.9800)">-22<span class="o1">1</span></div>
<div class="r" style="top:689.52px;right:496.84px;transform-origin:100% 50%;transform:scaleX(0.9800)">-<span class="o1">1</span>2.9</div>
<div class="r" style="top:689.52px;right:343.28px;transform-origin:100% 50%;transform:scaleX(0.9800)">-4.0</div>
<div class="r" style="top:689.52px;right:168.33px;transform-origin:100% 50%;transform:scaleX(0.9800)">-5.8</div>
<div class="r" style="top:689.52px;right:5.90px;transform-origin:100% 50%;transform:scaleX(0.9800)">-2.<span class="o1">1</span></div>
<div class="r" style="top:717.32px;left:67.55px;transform-origin:0 50%;transform:scaleX(0.9641)">Interno</div>
<div class="r" style="top:717.32px;right:1422.47px;transform-origin:100% 50%;transform:scaleX(0.9800)">3,800</div>
<div class="r" style="top:717.32px;right:1273.07px;transform-origin:100% 50%;transform:scaleX(0.9800)">3,8<span class="o1">1</span>9</div>
<div class="r" style="top:717.32px;right:1119.30px;transform-origin:100% 50%;transform:scaleX(0.9800)"><span class="o1">1</span>2,579</div>
<div class="r" style="top:717.32px;right:974.45px;transform-origin:100% 50%;transform:scaleX(0.9800)"><span class="o1">1</span>3,2<span class="o1">1</span>0</div>
<div class="r" style="top:717.32px;right:816.36px;transform-origin:100% 50%;transform:scaleX(0.9800)"><span class="o1">1</span>8</div>
<div class="r" style="top:717.32px;right:674.11px;transform-origin:100% 50%;transform:scaleX(0.9800)">63<span class="o1">1</span></div>
<div class="r" style="top:717.32px;right:496.84px;transform-origin:100% 50%;transform:scaleX(0.9800)">-2.5</div>
<div class="r" style="top:717.32px;right:343.28px;transform-origin:100% 50%;transform:scaleX(0.9800)"><span class="o1">1</span>.9</div>
<div class="r" style="top:717.32px;right:168.33px;transform-origin:100% 50%;transform:scaleX(0.9800)">-0.6</div>
<div class="r" style="top:717.32px;right:5.90px;transform-origin:100% 50%;transform:scaleX(0.9800)">0.6</div>
<div class="r" style="top:746.02px;left:67.42px;transform-origin:0 50%;transform:scaleX(0.9669)">Importaciones</div>
<div class="r" style="top:746.02px;right:1422.47px;transform-origin:100% 50%;transform:scaleX(0.9800)">3,<span class="o1">1</span>07</div>
<div class="r" style="top:746.02px;right:1273.07px;transform-origin:100% 50%;transform:scaleX(0.9800)">2,38<span class="o1">1</span></div>
<div class="r" style="top:746.02px;right:1119.30px;transform-origin:100% 50%;transform:scaleX(0.9800)">8,833</div>
<div class="r" style="top:746.02px;right:974.45px;transform-origin:100% 50%;transform:scaleX(0.9800)">7,982</div>
<div class="r" style="top:746.02px;right:816.36px;transform-origin:100% 50%;transform:scaleX(0.9800)">-726</div>
<div class="r" style="top:746.02px;right:674.11px;transform-origin:100% 50%;transform:scaleX(0.9800)">-852</div>
<div class="r" style="top:746.02px;right:496.84px;transform-origin:100% 50%;transform:scaleX(0.9800)">-25.6</div>
<div class="r" style="top:746.02px;right:343.28px;transform-origin:100% 50%;transform:scaleX(0.9800)">-<span class="o1">1</span>2.3</div>
<div class="r" style="top:746.02px;right:168.33px;transform-origin:100% 50%;transform:scaleX(0.9800)">-5.2</div>
<div class="r" style="top:746.02px;right:5.90px;transform-origin:100% 50%;transform:scaleX(0.9800)">-2.7</div>
<div class="r" style="top:773.72px;left:24.31px;transform-origin:0 50%;transform:scaleX(0.9551)">Impuesto Selectivo al Consumo</div>
<div class="r" style="top:773.72px;right:1422.47px;transform-origin:100% 50%;transform:scaleX(0.9800)">752</div>
<div class="r" style="top:773.72px;right:1273.07px;transform-origin:100% 50%;transform:scaleX(0.9800)">670</div>
<div class="r" style="top:773.72px;right:1119.30px;transform-origin:100% 50%;transform:scaleX(0.9800)">2,326</div>
<div class="r" style="top:773.72px;right:974.45px;transform-origin:100% 50%;transform:scaleX(0.9800)">2,232</div>
<div class="r" style="top:773.72px;right:816.36px;transform-origin:100% 50%;transform:scaleX(0.9800)">-82</div>
<div class="r" style="top:773.72px;right:674.11px;transform-origin:100% 50%;transform:scaleX(0.9800)">-94</div>
<div class="r" style="top:773.72px;right:496.84px;transform-origin:100% 50%;transform:scaleX(0.9800)">-<span class="o1">1</span>3.6</div>
<div class="r" style="top:773.72px;right:343.28px;transform-origin:100% 50%;transform:scaleX(0.9800)">-6.9</div>
<div class="r" style="top:773.72px;right:168.33px;transform-origin:100% 50%;transform:scaleX(0.9800)">-0.7</div>
<div class="r" style="top:773.72px;right:5.90px;transform-origin:100% 50%;transform:scaleX(0.9800)">-0.4</div>
<div class="r" style="top:801.52px;left:67.55px;transform-origin:0 50%;transform:scaleX(0.9641)">Interno</div>
<div class="r" style="top:801.52px;right:1422.47px;transform-origin:100% 50%;transform:scaleX(0.9800)">444</div>
<div class="r" style="top:801.52px;right:1273.07px;transform-origin:100% 50%;transform:scaleX(0.9800)">494</div>
<div class="r" style="top:801.52px;right:1119.30px;transform-origin:100% 50%;transform:scaleX(0.9800)"><span class="o1">1</span>,4<span class="o1">1</span>9</div>
<div class="r" style="top:801.52px;right:974.45px;transform-origin:100% 50%;transform:scaleX(0.9800)"><span class="o1">1</span>,489</div>
<div class="r" style="top:801.52px;right:816.36px;transform-origin:100% 50%;transform:scaleX(0.9800)">50</div>
<div class="r" style="top:801.52px;right:674.11px;transform-origin:100% 50%;transform:scaleX(0.9800)">7<span class="o1">1</span></div>
<div class="r" style="top:801.52px;right:496.84px;transform-origin:100% 50%;transform:scaleX(0.9800)">8.<span class="o1">1</span></div>
<div class="r" style="top:801.52px;right:343.28px;transform-origin:100% 50%;transform:scaleX(0.9800)"><span class="o1">1</span>.8</div>
<div class="r" style="top:801.52px;right:168.33px;transform-origin:100% 50%;transform:scaleX(0.9800)">0.2</div>
<div class="r" style="top:801.52px;right:5.90px;transform-origin:100% 50%;transform:scaleX(0.9800)">0.<span class="o1">1</span></div>
<div class="r" style="top:829.32px;left:89.14px;transform-origin:0 50%;transform:scaleX(0.9900)">Otros</div>
<div class="r" style="top:829.32px;right:1422.47px;transform-origin:100% 50%;transform:scaleX(0.9800)">368</div>
<div class="r" style="top:829.32px;right:1273.07px;transform-origin:100% 50%;transform:scaleX(0.9800)">390</div>
<div class="r" style="top:829.32px;right:1119.30px;transform-origin:100% 50%;transform:scaleX(0.9800)"><span class="o1">1</span>,<span class="o1">1</span>74</div>
<div class="r" style="top:829.32px;right:974.45px;transform-origin:100% 50%;transform:scaleX(0.9800)"><span class="o1">1</span>,2<span class="o1">1</span><span class="o1">1</span></div>
<div class="r" style="top:829.32px;right:816.36px;transform-origin:100% 50%;transform:scaleX(0.9800)">22</div>
<div class="r" style="top:829.32px;right:674.11px;transform-origin:100% 50%;transform:scaleX(0.9800)">37</div>
<div class="r" style="top:829.32px;right:496.84px;transform-origin:100% 50%;transform:scaleX(0.9800)">2.8</div>
<div class="r" style="top:829.32px;right:343.28px;transform-origin:100% 50%;transform:scaleX(0.9800)">0.0</div>
<div class="r" style="top:829.32px;right:168.33px;transform-origin:100% 50%;transform:scaleX(0.9800)">0.<span class="o1">1</span></div>
<div class="r" style="top:829.32px;right:5.90px;transform-origin:100% 50%;transform:scaleX(0.9800)">0.0</div>
<div class="r" style="top:857.42px;left:88.98px;transform-origin:0 50%;transform:scaleX(0.9487)">Combustibles</div>
<div class="r" style="top:857.42px;right:1422.47px;transform-origin:100% 50%;transform:scaleX(0.9800)">75</div>
<div class="r" style="top:857.42px;right:1273.07px;transform-origin:100% 50%;transform:scaleX(0.9800)"><span class="o1">1</span>04</div>
<div class="r" style="top:857.42px;right:1119.30px;transform-origin:100% 50%;transform:scaleX(0.9800)">244</div>
<div class="r" style="top:857.42px;right:974.45px;transform-origin:100% 50%;transform:scaleX(0.9800)">278</div>
<div class="r" style="top:857.42px;right:816.36px;transform-origin:100% 50%;transform:scaleX(0.9800)">29</div>
<div class="r" style="top:857.42px;right:674.11px;transform-origin:100% 50%;transform:scaleX(0.9800)">34</div>
<div class="r" style="top:857.42px;right:496.84px;transform-origin:100% 50%;transform:scaleX(0.9800)">33.8</div>
<div class="r" style="top:857.42px;right:343.28px;transform-origin:100% 50%;transform:scaleX(0.9800)"><span class="o1">1</span>0.3</div>
<div class="r" style="top:857.42px;right:168.33px;transform-origin:100% 50%;transform:scaleX(0.9800)">0.2</div>
<div class="r" style="top:857.42px;right:5.90px;transform-origin:100% 50%;transform:scaleX(0.9800)">0.<span class="o1">1</span></div>
<div class="r" style="top:885.52px;left:67.42px;transform-origin:0 50%;transform:scaleX(0.9669)">Importaciones</div>
<div class="r" style="top:885.52px;right:1422.47px;transform-origin:100% 50%;transform:scaleX(0.9800)">309</div>
<div class="r" style="top:885.52px;right:1273.07px;transform-origin:100% 50%;transform:scaleX(0.9800)"><span class="o1">1</span>76</div>
<div class="r" style="top:885.52px;right:1119.30px;transform-origin:100% 50%;transform:scaleX(0.9800)">907</div>
<div class="r" style="top:885.52px;right:974.45px;transform-origin:100% 50%;transform:scaleX(0.9800)">743</div>
<div class="r" style="top:885.52px;right:816.36px;transform-origin:100% 50%;transform:scaleX(0.9800)">-<span class="o1">1</span>33</div>
<div class="r" style="top:885.52px;right:674.11px;transform-origin:100% 50%;transform:scaleX(0.9800)">-<span class="o1">1</span>64</div>
<div class="r" style="top:885.52px;right:496.84px;transform-origin:100% 50%;transform:scaleX(0.9800)">-44.7</div>
<div class="r" style="top:885.52px;right:343.28px;transform-origin:100% 50%;transform:scaleX(0.9800)">-20.5</div>
<div class="r" style="top:885.52px;right:168.33px;transform-origin:100% 50%;transform:scaleX(0.9800)">-0.9</div>
<div class="r" style="top:885.52px;right:5.90px;transform-origin:100% 50%;transform:scaleX(0.9800)">-0.5</div>
<div class="r" style="top:913.22px;left:89.14px;transform-origin:0 50%;transform:scaleX(0.9900)">Otros</div>
<div class="r" style="top:913.22px;right:1422.47px;transform-origin:100% 50%;transform:scaleX(0.9800)">98</div>
<div class="r" style="top:913.22px;right:1273.07px;transform-origin:100% 50%;transform:scaleX(0.9800)">92</div>
<div class="r" style="top:913.22px;right:1119.30px;transform-origin:100% 50%;transform:scaleX(0.9800)">3<span class="o1">1</span>6</div>
<div class="r" style="top:913.22px;right:974.45px;transform-origin:100% 50%;transform:scaleX(0.9800)">278</div>
<div class="r" style="top:913.22px;right:816.36px;transform-origin:100% 50%;transform:scaleX(0.9800)">-6</div>
<div class="r" style="top:913.22px;right:674.11px;transform-origin:100% 50%;transform:scaleX(0.9800)">-38</div>
<div class="r" style="top:913.22px;right:496.84px;transform-origin:100% 50%;transform:scaleX(0.9800)">-9.2</div>
<div class="r" style="top:913.22px;right:343.28px;transform-origin:100% 50%;transform:scaleX(0.9800)">-<span class="o1">1</span>4.8</div>
<div class="r" style="top:913.22px;right:168.33px;transform-origin:100% 50%;transform:scaleX(0.9800)">-0.<span class="o1">1</span></div>
<div class="r" style="top:913.22px;right:5.90px;transform-origin:100% 50%;transform:scaleX(0.9800)">-0.<span class="o1">1</span></div>
<div class="r" style="top:941.92px;left:88.98px;transform-origin:0 50%;transform:scaleX(0.9487)">Combustibles</div>
<div class="r" style="top:941.92px;right:1422.47px;transform-origin:100% 50%;transform:scaleX(0.9800)">2<span class="o1">1</span><span class="o1">1</span></div>
<div class="r" style="top:941.92px;right:1273.07px;transform-origin:100% 50%;transform:scaleX(0.9800)">84</div>
<div class="r" style="top:941.92px;right:1119.30px;transform-origin:100% 50%;transform:scaleX(0.9800)">59<span class="o1">1</span></div>
<div class="r" style="top:941.92px;right:974.45px;transform-origin:100% 50%;transform:scaleX(0.9800)">465</div>
<div class="r" style="top:941.92px;right:816.36px;transform-origin:100% 50%;transform:scaleX(0.9800)">-<span class="o1">1</span>27</div>
<div class="r" style="top:941.92px;right:674.11px;transform-origin:100% 50%;transform:scaleX(0.9800)">-<span class="o1">1</span>26</div>
<div class="r" style="top:941.92px;right:496.84px;transform-origin:100% 50%;transform:scaleX(0.9800)">-6<span class="o1">1</span>.3</div>
<div class="r" style="top:941.92px;right:343.28px;transform-origin:100% 50%;transform:scaleX(0.9800)">-23.5</div>
<div class="r" style="top:941.92px;right:168.33px;transform-origin:100% 50%;transform:scaleX(0.9800)">-0.8</div>
<div class="r" style="top:941.92px;right:5.90px;transform-origin:100% 50%;transform:scaleX(0.9800)">-0.3</div>
<div class="r" style="top:969.72px;left:25.25px;transform-origin:0 50%;transform:scaleX(0.9607)">Otros a la Producción y al Consumo</div>
<div class="r" style="top:969.72px;right:1422.47px;transform-origin:100% 50%;transform:scaleX(0.9800)"><span class="o1">1</span>5</div>
<div class="r" style="top:969.72px;right:1273.07px;transform-origin:100% 50%;transform:scaleX(0.9800)"><span class="o1">1</span>7</div>
<div class="r" style="top:969.72px;right:1119.30px;transform-origin:100% 50%;transform:scaleX(0.9800)">49</div>
<div class="r" style="top:969.72px;right:974.45px;transform-origin:100% 50%;transform:scaleX(0.9800)">56</div>
<div class="r" style="top:969.72px;right:816.36px;transform-origin:100% 50%;transform:scaleX(0.9800)">2</div>
<div class="r" style="top:969.72px;right:674.11px;transform-origin:100% 50%;transform:scaleX(0.9800)">7</div>
<div class="r" style="top:969.72px;right:496.84px;transform-origin:100% 50%;transform:scaleX(0.9800)"><span class="o1">1</span><span class="o1">1</span>.7</div>
<div class="r" style="top:969.72px;right:343.28px;transform-origin:100% 50%;transform:scaleX(0.9800)"><span class="o1">1</span>0.9</div>
<div class="r" style="top:969.72px;right:168.33px;transform-origin:100% 50%;transform:scaleX(0.9800)">0.0</div>
<div class="r" style="top:969.72px;right:5.90px;transform-origin:100% 50%;transform:scaleX(0.9800)">0.0</div>
<div class="b" style="top:997.72px;left:4.33px;transform-origin:0 50%;transform:scaleX(0.9861)">A la importación</div>
<div class="b" style="top:997.72px;right:1422.63px;transform-origin:100% 50%;transform:scaleX(0.9890)"><span class="o1">1</span>32</div>
<div class="b" style="top:997.72px;right:1273.13px;transform-origin:100% 50%;transform:scaleX(0.9890)"><span class="o1">1</span><span class="o1">1</span>9</div>
<div class="b" style="top:997.72px;right:1118.85px;transform-origin:100% 50%;transform:scaleX(0.9890)">372</div>
<div class="b" style="top:997.72px;right:974.27px;transform-origin:100% 50%;transform:scaleX(0.9890)">36<span class="o1">1</span></div>
<div class="b" style="top:997.72px;right:815.81px;transform-origin:100% 50%;transform:scaleX(0.9890)"><span class="hy">-</span><span class="o1">1</span>3</div>
<div class="b" style="top:997.72px;right:674.68px;transform-origin:100% 50%;transform:scaleX(0.9890)"><span class="hy">-</span><span class="o1">1</span><span class="o1">1</span></div>
<div class="b" style="top:997.72px;right:496.88px;transform-origin:100% 50%;transform:scaleX(0.9890)"><span class="hy">-</span><span class="o1">1</span>2.8</div>
<div class="b" style="top:997.72px;right:343.53px;transform-origin:100% 50%;transform:scaleX(0.9890)"><span class="hy">-</span>5.8</div>
<div class="b" style="top:997.72px;right:167.89px;transform-origin:100% 50%;transform:scaleX(0.9890)"><span class="hy">-</span>0.<span class="o1">1</span></div>
<div class="b" style="top:997.72px;right:5.58px;transform-origin:100% 50%;transform:scaleX(0.9890)"><span class="hy">-</span>0.<span class="o1">1</span></div>
<div class="b" style="top:1025.92px;left:5.09px;transform-origin:0 50%;transform:scaleX(0.9746)">Otros Ingresos</div>
<div class="b" style="top:1025.92px;right:1422.63px;transform-origin:100% 50%;transform:scaleX(0.9890)">627</div>
<div class="b" style="top:1025.92px;right:1273.13px;transform-origin:100% 50%;transform:scaleX(0.9890)">493</div>
<div class="b" style="top:1025.92px;right:1118.85px;transform-origin:100% 50%;transform:scaleX(0.9890)"><span class="o1">1</span>,825</div>
<div class="b" style="top:1025.92px;right:974.27px;transform-origin:100% 50%;transform:scaleX(0.9890)"><span class="o1">1</span>,768</div>
<div class="b" style="top:1025.92px;right:815.81px;transform-origin:100% 50%;transform:scaleX(0.9890)"><span class="hy">-</span><span class="o1">1</span>35</div>
<div class="b" style="top:1025.92px;right:674.68px;transform-origin:100% 50%;transform:scaleX(0.9890)"><span class="hy">-</span>58</div>
<div class="b" style="top:1025.92px;right:496.88px;transform-origin:100% 50%;transform:scaleX(0.9890)"><span class="hy">-</span>23.8</div>
<div class="b" style="top:1025.92px;right:343.53px;transform-origin:100% 50%;transform:scaleX(0.9890)"><span class="hy">-</span>6.0</div>
<div class="b" style="top:1025.92px;right:167.89px;transform-origin:100% 50%;transform:scaleX(0.9890)"><span class="hy">-</span><span class="o1">1</span>.0</div>
<div class="b" style="top:1025.92px;right:5.58px;transform-origin:100% 50%;transform:scaleX(0.9890)"><span class="hy">-</span>0.3</div>
<div class="r" style="top:1053.72px;left:25.52px;transform-origin:0 50%;transform:scaleX(0.9739)">Fraccionamientos</div>
<div class="r" style="top:1053.72px;right:1422.47px;transform-origin:100% 50%;transform:scaleX(0.9800)">20<span class="o1">1</span></div>
<div class="r" style="top:1053.72px;right:1273.07px;transform-origin:100% 50%;transform:scaleX(0.9800)"><span class="o1">1</span>6<span class="o1">1</span></div>
<div class="r" style="top:1053.72px;right:1119.30px;transform-origin:100% 50%;transform:scaleX(0.9800)">542</div>
<div class="r" style="top:1053.72px;right:974.45px;transform-origin:100% 50%;transform:scaleX(0.9800)">544</div>
<div class="r" style="top:1053.72px;right:816.36px;transform-origin:100% 50%;transform:scaleX(0.9800)">-40</div>
<div class="r" style="top:1053.72px;right:674.11px;transform-origin:100% 50%;transform:scaleX(0.9800)"><span class="o1">1</span></div>
<div class="r" style="top:1053.72px;right:496.84px;transform-origin:100% 50%;transform:scaleX(0.9800)">-22.3</div>
<div class="r" style="top:1053.72px;right:343.28px;transform-origin:100% 50%;transform:scaleX(0.9800)">-2.7</div>
<div class="r" style="top:1053.72px;right:168.33px;transform-origin:100% 50%;transform:scaleX(0.9800)">-0.3</div>
<div class="r" style="top:1053.72px;right:5.90px;transform-origin:100% 50%;transform:scaleX(0.9800)">0.0</div>
<div class="r" style="top:1082.42px;left:25.71px;transform-origin:0 50%;transform:scaleX(0.9577)">Régimen Unico Simplificado</div>
<div class="r" style="top:1082.42px;right:1422.47px;transform-origin:100% 50%;transform:scaleX(0.9800)"><span class="o1">1</span>0</div>
<div class="r" style="top:1082.42px;right:1273.07px;transform-origin:100% 50%;transform:scaleX(0.9800)">9</div>
<div class="r" style="top:1082.42px;right:1119.30px;transform-origin:100% 50%;transform:scaleX(0.9800)">30</div>
<div class="r" style="top:1082.42px;right:974.45px;transform-origin:100% 50%;transform:scaleX(0.9800)">30</div>
<div class="r" style="top:1082.42px;right:816.36px;transform-origin:100% 50%;transform:scaleX(0.9800)">-<span class="o1">1</span></div>
<div class="r" style="top:1082.42px;right:674.11px;transform-origin:100% 50%;transform:scaleX(0.9800)">0</div>
<div class="r" style="top:1082.42px;right:496.84px;transform-origin:100% 50%;transform:scaleX(0.9800)">-<span class="o1">1</span>2.2</div>
<div class="r" style="top:1082.42px;right:343.28px;transform-origin:100% 50%;transform:scaleX(0.9800)">-2.8</div>
<div class="r" style="top:1082.42px;right:168.33px;transform-origin:100% 50%;transform:scaleX(0.9800)">0.0</div>
<div class="r" style="top:1082.42px;right:5.90px;transform-origin:100% 50%;transform:scaleX(0.9800)">0.0</div>
<div class="r" style="top:1110.62px;left:25.86px;transform-origin:0 50%;transform:scaleX(0.9682)">Casinos y Tragamonedas</div>
<div class="r" style="top:1110.62px;right:1422.47px;transform-origin:100% 50%;transform:scaleX(0.9800)"><span class="o1">1</span>8</div>
<div class="r" style="top:1110.62px;right:1273.07px;transform-origin:100% 50%;transform:scaleX(0.9800)"><span class="o1">1</span>6</div>
<div class="r" style="top:1110.62px;right:1119.30px;transform-origin:100% 50%;transform:scaleX(0.9800)">54</div>
<div class="r" style="top:1110.62px;right:974.45px;transform-origin:100% 50%;transform:scaleX(0.9800)">52</div>
<div class="r" style="top:1110.62px;right:816.36px;transform-origin:100% 50%;transform:scaleX(0.9800)">-2</div>
<div class="r" style="top:1110.62px;right:674.11px;transform-origin:100% 50%;transform:scaleX(0.9800)">-2</div>
<div class="r" style="top:1110.62px;right:496.84px;transform-origin:100% 50%;transform:scaleX(0.9800)">-<span class="o1">1</span><span class="o1">1</span>.5</div>
<div class="r" style="top:1110.62px;right:343.28px;transform-origin:100% 50%;transform:scaleX(0.9800)">-6.8</div>
<div class="r" style="top:1110.62px;right:168.33px;transform-origin:100% 50%;transform:scaleX(0.9800)">0.0</div>
<div class="r" style="top:1110.62px;right:5.90px;transform-origin:100% 50%;transform:scaleX(0.9800)">0.0</div>
<div class="r" style="top:1139.32px;left:25.71px;transform-origin:0 50%;transform:scaleX(0.9582)">Multas</div>
<div class="r" style="top:1139.32px;right:1422.47px;transform-origin:100% 50%;transform:scaleX(0.9800)"><span class="o1">1</span>00</div>
<div class="r" style="top:1139.32px;right:1273.07px;transform-origin:100% 50%;transform:scaleX(0.9800)">53</div>
<div class="r" style="top:1139.32px;right:1119.30px;transform-origin:100% 50%;transform:scaleX(0.9800)">335</div>
<div class="r" style="top:1139.32px;right:974.45px;transform-origin:100% 50%;transform:scaleX(0.9800)">224</div>
<div class="r" style="top:1139.32px;right:816.36px;transform-origin:100% 50%;transform:scaleX(0.9800)">-47</div>
<div class="r" style="top:1139.32px;right:674.11px;transform-origin:100% 50%;transform:scaleX(0.9800)">-<span class="o1">1</span><span class="o1">1</span><span class="o1">1</span></div>
<div class="r" style="top:1139.32px;right:496.84px;transform-origin:100% 50%;transform:scaleX(0.9800)">-48.5</div>
<div class="r" style="top:1139.32px;right:343.28px;transform-origin:100% 50%;transform:scaleX(0.9800)">-35.0</div>
<div class="r" style="top:1139.32px;right:168.33px;transform-origin:100% 50%;transform:scaleX(0.9800)">-0.3</div>
<div class="r" style="top:1139.32px;right:5.90px;transform-origin:100% 50%;transform:scaleX(0.9800)">-0.3</div>
<div class="r" style="top:1167.32px;left:25.07px;transform-origin:0 50%;transform:scaleX(1.0145)">ICR</div>
<div class="r" style="top:1167.32px;right:1422.47px;transform-origin:100% 50%;transform:scaleX(0.9800)">8<span class="o1">1</span></div>
<div class="r" style="top:1167.32px;right:1273.07px;transform-origin:100% 50%;transform:scaleX(0.9800)"><span class="o1">1</span>9</div>
<div class="r" style="top:1167.32px;right:1119.30px;transform-origin:100% 50%;transform:scaleX(0.9800)"><span class="o1">1</span>98</div>
<div class="r" style="top:1167.32px;right:974.45px;transform-origin:100% 50%;transform:scaleX(0.9800)"><span class="o1">1</span>7<span class="o1">1</span></div>
<div class="r" style="top:1167.32px;right:816.36px;transform-origin:100% 50%;transform:scaleX(0.9800)">-62</div>
<div class="r" style="top:1167.32px;right:674.11px;transform-origin:100% 50%;transform:scaleX(0.9800)">-27</div>
<div class="r" style="top:1167.32px;right:496.84px;transform-origin:100% 50%;transform:scaleX(0.9800)">-77.<span class="o1">1</span></div>
<div class="r" style="top:1167.32px;right:343.28px;transform-origin:100% 50%;transform:scaleX(0.9800)">-<span class="o1">1</span>5.6</div>
<div class="r" style="top:1167.32px;right:168.33px;transform-origin:100% 50%;transform:scaleX(0.9800)">-0.4</div>
<div class="r" style="top:1167.32px;right:5.90px;transform-origin:100% 50%;transform:scaleX(0.9800)">-0.<span class="o1">1</span></div>
<div class="r" style="top:1195.52px;left:25.62px;transform-origin:0 50%;transform:scaleX(0.9674)">Impuesto a las Transacciones</div>
<div class="r" style="top:1195.52px;right:1422.47px;transform-origin:100% 50%;transform:scaleX(0.9800)">25</div>
<div class="r" style="top:1195.52px;right:1273.07px;transform-origin:100% 50%;transform:scaleX(0.9800)">26</div>
<div class="r" style="top:1195.52px;right:1119.30px;transform-origin:100% 50%;transform:scaleX(0.9800)">79</div>
<div class="r" style="top:1195.52px;right:974.45px;transform-origin:100% 50%;transform:scaleX(0.9800)">84</div>
<div class="r" style="top:1195.52px;right:816.36px;transform-origin:100% 50%;transform:scaleX(0.9800)">2</div>
<div class="r" style="top:1195.52px;right:674.11px;transform-origin:100% 50%;transform:scaleX(0.9800)">4</div>
<div class="r" style="top:1195.52px;right:496.84px;transform-origin:100% 50%;transform:scaleX(0.9800)">3.7</div>
<div class="r" style="top:1195.52px;right:343.28px;transform-origin:100% 50%;transform:scaleX(0.9800)">2.<span class="o1">1</span></div>
<div class="r" style="top:1195.52px;right:168.33px;transform-origin:100% 50%;transform:scaleX(0.9800)">0.0</div>
<div class="r" style="top:1195.52px;right:5.90px;transform-origin:100% 50%;transform:scaleX(0.9800)">0.0</div>
<div class="r" style="top:1223.32px;left:25.51px;transform-origin:0 50%;transform:scaleX(0.9823)">ITAN</div>
<div class="r" style="top:1223.32px;right:1422.47px;transform-origin:100% 50%;transform:scaleX(0.9800)"><span class="o1">1</span>6</div>
<div class="r" style="top:1223.32px;right:1273.07px;transform-origin:100% 50%;transform:scaleX(0.9800)"><span class="o1">1</span>2</div>
<div class="r" style="top:1223.32px;right:1119.30px;transform-origin:100% 50%;transform:scaleX(0.9800)">54</div>
<div class="r" style="top:1223.32px;right:974.45px;transform-origin:100% 50%;transform:scaleX(0.9800)">67</div>
<div class="r" style="top:1223.32px;right:816.36px;transform-origin:100% 50%;transform:scaleX(0.9800)">-4</div>
<div class="r" style="top:1223.32px;right:674.11px;transform-origin:100% 50%;transform:scaleX(0.9800)"><span class="o1">1</span>3</div>
<div class="r" style="top:1223.32px;right:496.84px;transform-origin:100% 50%;transform:scaleX(0.9800)">-26.0</div>
<div class="r" style="top:1223.32px;right:343.28px;transform-origin:100% 50%;transform:scaleX(0.9800)">2<span class="o1">1</span>.<span class="o1">1</span></div>
<div class="r" style="top:1223.32px;right:168.33px;transform-origin:100% 50%;transform:scaleX(0.9800)">0.0</div>
<div class="r" style="top:1223.32px;right:5.90px;transform-origin:100% 50%;transform:scaleX(0.9800)">0.0</div>
<div class="r" style="top:1251.02px;left:24.82px;transform-origin:0 50%;transform:scaleX(0.9522)">Impuesto Especial a la Minería</div>
<div class="r" style="top:1251.02px;right:1422.47px;transform-origin:100% 50%;transform:scaleX(0.9800)">95</div>
<div class="r" style="top:1251.02px;right:1273.07px;transform-origin:100% 50%;transform:scaleX(0.9800)">95</div>
<div class="r" style="top:1251.02px;right:1119.30px;transform-origin:100% 50%;transform:scaleX(0.9800)">288</div>
<div class="r" style="top:1251.02px;right:974.45px;transform-origin:100% 50%;transform:scaleX(0.9800)">334</div>
<div class="r" style="top:1251.02px;right:816.36px;transform-origin:100% 50%;transform:scaleX(0.9800)">0</div>
<div class="r" style="top:1251.02px;right:674.11px;transform-origin:100% 50%;transform:scaleX(0.9800)">46</div>
<div class="r" style="top:1251.02px;right:496.84px;transform-origin:100% 50%;transform:scaleX(0.9800)">-3.0</div>
<div class="r" style="top:1251.02px;right:343.28px;transform-origin:100% 50%;transform:scaleX(0.9800)"><span class="o1">1</span>2.4</div>
<div class="r" style="top:1251.02px;right:168.33px;transform-origin:100% 50%;transform:scaleX(0.9800)">0.0</div>
<div class="r" style="top:1251.02px;right:5.90px;transform-origin:100% 50%;transform:scaleX(0.9800)">0.<span class="o1">1</span></div>
<div class="r" style="top:1279.52px;left:26.11px;transform-origin:0 50%;transform:scaleX(0.9836)">Otros</div>
<div class="r" style="top:1279.52px;right:1422.47px;transform-origin:100% 50%;transform:scaleX(0.9800)">82</div>
<div class="r" style="top:1279.52px;right:1273.07px;transform-origin:100% 50%;transform:scaleX(0.9800)"><span class="o1">1</span>0<span class="o1">1</span></div>
<div class="r" style="top:1279.52px;right:1119.30px;transform-origin:100% 50%;transform:scaleX(0.9800)">245</div>
<div class="r" style="top:1279.52px;right:974.45px;transform-origin:100% 50%;transform:scaleX(0.9800)">262</div>
<div class="r" style="top:1279.52px;right:816.36px;transform-origin:100% 50%;transform:scaleX(0.9800)"><span class="o1">1</span>9</div>
<div class="r" style="top:1279.52px;right:674.11px;transform-origin:100% 50%;transform:scaleX(0.9800)"><span class="o1">1</span>7</div>
<div class="r" style="top:1279.52px;right:496.84px;transform-origin:100% 50%;transform:scaleX(0.9800)"><span class="o1">1</span>9.0</div>
<div class="r" style="top:1279.52px;right:343.28px;transform-origin:100% 50%;transform:scaleX(0.9800)">3.6</div>
<div class="r" style="top:1279.52px;right:168.33px;transform-origin:100% 50%;transform:scaleX(0.9800)">0.<span class="o1">1</span></div>
<div class="r" style="top:1279.52px;right:5.90px;transform-origin:100% 50%;transform:scaleX(0.9800)">0.0</div>
<div class="b" style="top:1335.82px;left:4.84px;transform-origin:0 50%;transform:scaleX(1.0031)">Devoluciones</div>
<div class="b" style="top:1335.82px;right:1422.63px;transform-origin:100% 50%;transform:scaleX(0.9890)"><span class="hy">-</span>2,082</div>
<div class="b" style="top:1335.82px;right:1273.13px;transform-origin:100% 50%;transform:scaleX(0.9890)"><span class="hy">-</span><span class="o1">1</span>,960</div>
<div class="b" style="top:1335.82px;right:1118.85px;transform-origin:100% 50%;transform:scaleX(0.9890)"><span class="hy">-</span>5,449</div>
<div class="b" style="top:1335.82px;right:974.27px;transform-origin:100% 50%;transform:scaleX(0.9890)"><span class="hy">-</span>5,623</div>
<div class="b" style="top:1335.82px;right:815.81px;transform-origin:100% 50%;transform:scaleX(0.9890)"><span class="o1">1</span>22</div>
<div class="b" style="top:1335.82px;right:674.68px;transform-origin:100% 50%;transform:scaleX(0.9890)"><span class="hy">-</span><span class="o1">1</span>74</div>
<div class="b" style="top:1335.82px;right:496.88px;transform-origin:100% 50%;transform:scaleX(0.9890)"><span class="hy">-</span>8.7</div>
<div class="b" style="top:1335.82px;right:343.53px;transform-origin:100% 50%;transform:scaleX(0.9890)">0.<span class="o1">1</span></div>
<div class="b" style="top:1335.82px;right:167.89px;transform-origin:100% 50%;transform:scaleX(0.9890)"><span class="o1">1</span>.2</div>
<div class="b" style="top:1335.82px;right:5.58px;transform-origin:100% 50%;transform:scaleX(0.9890)">0.0</div>
<div class="b" style="top:1386.82px;left:6.42px;transform-origin:0 50%;transform:scaleX(0.9886)">Tributos Internos</div>
<div class="r" style="top:1386.82px;right:1422.47px;transform-origin:100% 50%;transform:scaleX(0.9800)"><span class="o1">1</span>3,77<span class="o1">1</span></div>
<div class="r" style="top:1386.82px;right:1273.07px;transform-origin:100% 50%;transform:scaleX(0.9800)"><span class="o1">1</span>0,99<span class="o1">1</span></div>
<div class="r" style="top:1386.82px;right:1119.30px;transform-origin:100% 50%;transform:scaleX(0.9800)">35,778</div>
<div class="r" style="top:1386.82px;right:974.45px;transform-origin:100% 50%;transform:scaleX(0.9800)">33,853</div>
<div class="r" style="top:1386.82px;right:816.36px;transform-origin:100% 50%;transform:scaleX(0.9800)">-2,780</div>
<div class="r" style="top:1386.82px;right:674.11px;transform-origin:100% 50%;transform:scaleX(0.9800)">-<span class="o1">1</span>,925</div>
<div class="r" style="top:1386.82px;right:496.84px;transform-origin:100% 50%;transform:scaleX(0.9800)">-22.5</div>
<div class="r" style="top:1386.82px;right:343.28px;transform-origin:100% 50%;transform:scaleX(0.9800)">-8.2</div>
<div class="r" style="top:1386.82px;right:168.33px;transform-origin:100% 50%;transform:scaleX(0.9800)">-20.3</div>
<div class="r" style="top:1386.82px;right:5.90px;transform-origin:100% 50%;transform:scaleX(0.9800)">-7.2</div>
<div class="b" style="top:1415.62px;left:6.42px;transform-origin:0 50%;transform:scaleX(0.9941)">Tributos Aduaneros</div>
<div class="r" style="top:1415.62px;right:1422.47px;transform-origin:100% 50%;transform:scaleX(0.9800)">3,569</div>
<div class="r" style="top:1415.62px;right:1273.07px;transform-origin:100% 50%;transform:scaleX(0.9800)">2,690</div>
<div class="r" style="top:1415.62px;right:1119.30px;transform-origin:100% 50%;transform:scaleX(0.9800)"><span class="o1">1</span>0,<span class="o1">1</span>69</div>
<div class="r" style="top:1415.62px;right:974.45px;transform-origin:100% 50%;transform:scaleX(0.9800)">9,<span class="o1">1</span>38</div>
<div class="r" style="top:1415.62px;right:816.36px;transform-origin:100% 50%;transform:scaleX(0.9800)">-879</div>
<div class="r" style="top:1415.62px;right:674.11px;transform-origin:100% 50%;transform:scaleX(0.9800)">-<span class="o1">1</span>,032</div>
<div class="r" style="top:1415.62px;right:496.84px;transform-origin:100% 50%;transform:scaleX(0.9800)">-26.8</div>
<div class="r" style="top:1415.62px;right:343.28px;transform-origin:100% 50%;transform:scaleX(0.9800)">-<span class="o1">1</span>2.8</div>
<div class="r" style="top:1415.62px;right:168.33px;transform-origin:100% 50%;transform:scaleX(0.9800)">-6.3</div>
<div class="r" style="top:1415.62px;right:5.90px;transform-origin:100% 50%;transform:scaleX(0.9800)">-3.2</div>
<div class="r" style="top:1357.62px;left:5.30px;transform-origin:0 50%;transform:scaleX(0.9570)"><u>Memo</u></div>
<div class="ln" style="left:436px;top:33px;width:304px;height:1px"></div>
<div class="ln" style="left:748px;top:33px;width:291px;height:1px"></div>
<div class="ln" style="left:1054px;top:33px;width:285px;height:1px"></div>
<div class="ln" style="left:1361px;top:33px;width:309px;height:1px"></div>
<div class="ln" style="left:1690px;top:33px;width:318px;height:1px"></div>
<div class="ln" style="left:1px;top:62px;width:2007px;height:1px"></div>
<div class="ln" style="left:1px;top:1360px;width:2007px;height:1px"></div>
<div class="ln" style="left:1px;top:1440px;width:2007px;height:1px"></div>
</body></html>
